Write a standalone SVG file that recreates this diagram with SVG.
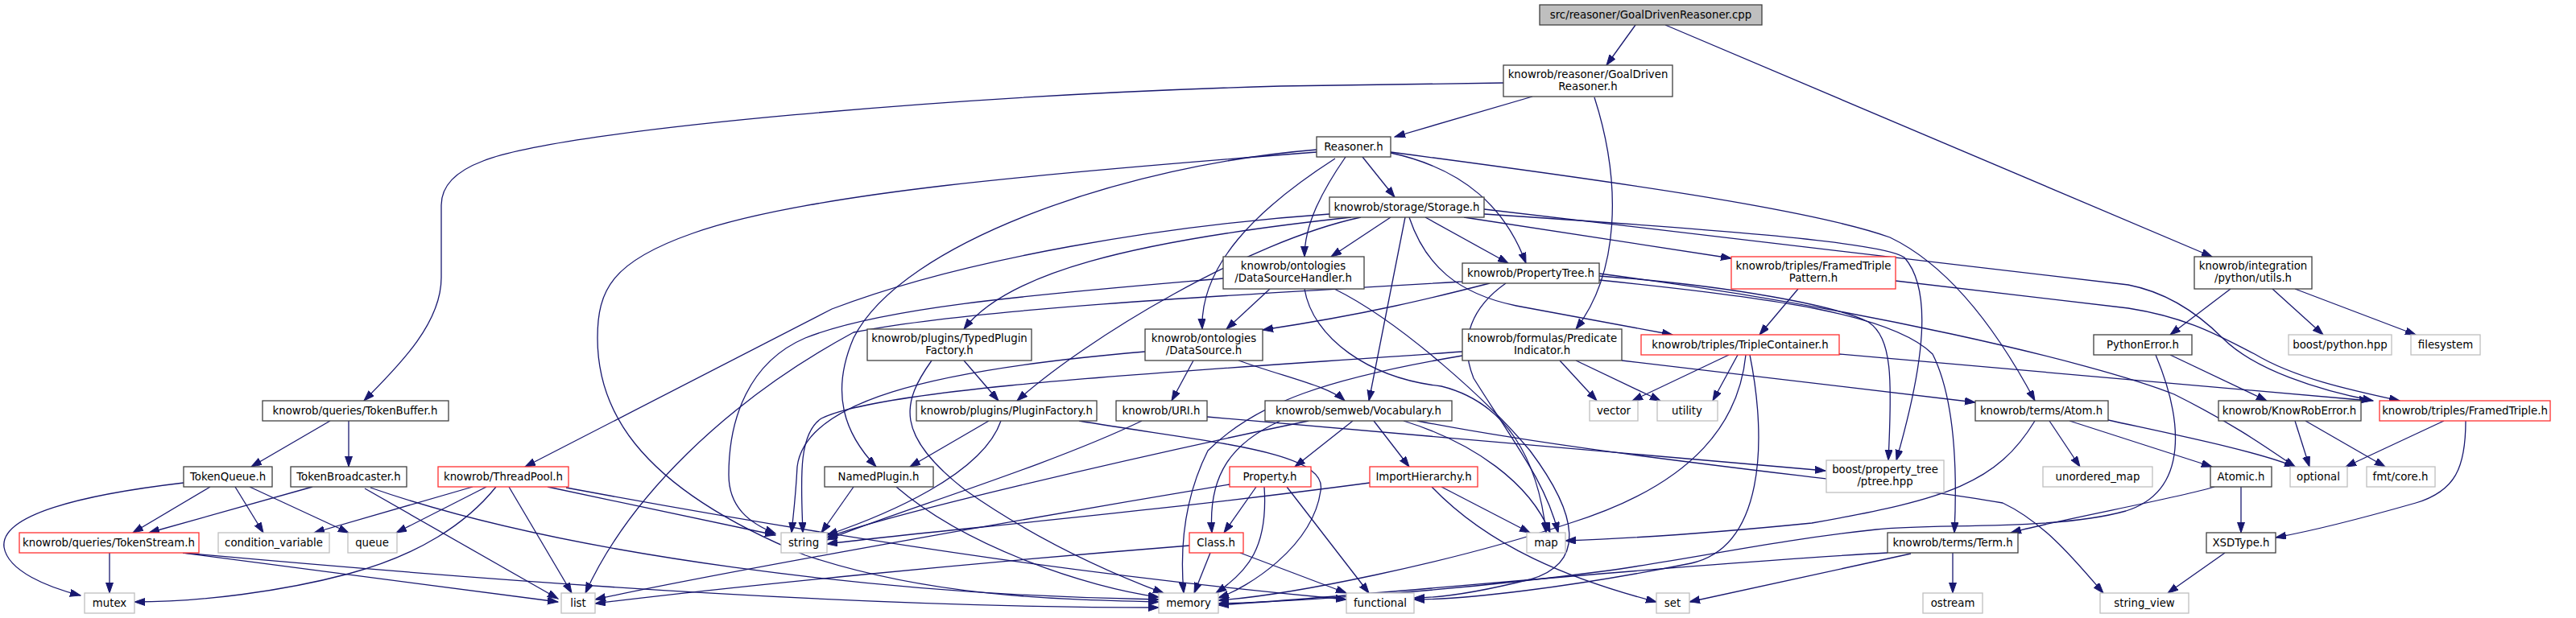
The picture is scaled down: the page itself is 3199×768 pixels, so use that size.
<svg xmlns="http://www.w3.org/2000/svg" width="3199" height="768" viewBox="0 0 3199 768">
<style>
.n rect{fill:#fff;stroke:#404040;stroke-width:1.3}
.r rect{fill:#fff;stroke:#ff3030;stroke-width:1.3}
.g rect{fill:#fff;stroke:#bfbfbf;stroke-width:1.3}
.root rect{fill:#bfbfbf;stroke:#404040;stroke-width:1.3}
text{font-family:"DejaVu Sans","Liberation Sans",sans-serif;font-size:13.3px;fill:#000;text-anchor:middle}
#edges path{fill:none;stroke:#191970;stroke-width:1.3;marker-end:url(#a)}
</style>
<defs>
<marker id="a" markerUnits="userSpaceOnUse" markerWidth="14" markerHeight="10" refX="13" refY="4.5" orient="auto">
<path d="M0,0 L13,4.5 L0,9 z" fill="#191970" stroke="#191970" stroke-width="1"/>
</marker>
</defs>
<rect width="3199" height="768" fill="#fff"/>
<g id="edges">
<path d="M2031,31 L1995,81"/>
<path d="M2068,31 L2747,319"/>
<path d="M1903,120 L1732,170"/>
<path d="M1867,103 L1590,107 C1200,118 700,160 600,200 C560,215 548,235 548,255 L548,345 C548,400 500,450 452,498"/>
<path d="M1980,121 C2015,230 2010,340 1957,409"/>
<path d="M1692,195 L1732,245"/>
<path d="M1671,195 C1640,240 1620,280 1620,319"/>
<path d="M1727,190 C1820,210 1870,260 1895,327"/>
<path d="M1658,197 C1560,260 1490,330 1493,409"/>
<path d="M1727,189 C2000,225 2250,260 2347,295 C2420,330 2480,410 2527,498"/>
<path d="M1635,186 C1400,205 1120,300 1060,420 C1030,490 1050,540 1088,580"/>
<path d="M1635,189 C1300,215 1000,240 860,290 C760,325 742,360 742,420 C742,500 780,600 1000,690 C1150,740 1300,745 1439,748"/>
<path d="M1651,266 C1450,280 1200,320 1033,384 L652,580"/>
<path d="M1678,270 C1400,300 1250,340 1197,409"/>
<path d="M1690,270 C1550,300 1350,420 1263,498"/>
<path d="M1727,270 L1653,319"/>
<path d="M1745,270 L1700,498"/>
<path d="M1750,270 C1770,330 1810,365 1883,380 L2077,416"/>
<path d="M1770,270 L1873,327"/>
<path d="M1818,270 L2150,321"/>
<path d="M1843,266 C2100,283 2340,300 2365,320 C2400,360 2390,450 2355,572"/>
<path d="M1843,260 L2643,354 C2700,365 2740,400 2760,420 C2800,460 2880,485 2947,498"/>
<path d="M2233,359 L2185,416"/>
<path d="M2354,349 L2643,383 C2720,395 2760,420 2800,440 C2850,470 2920,485 2980,498"/>
<path d="M2284,440 L2943,498"/>
<path d="M2770,359 L2695,416"/>
<path d="M2822,359 L2885,416"/>
<path d="M2850,359 L3000,416"/>
<path d="M2695,441 L2815,498"/>
<path d="M2677,441 C2710,520 2720,610 2640,635 C2550,660 2400,650 2330,658 C2200,672 2100,695 1990,710 C1800,735 1600,748 1513,750"/>
<path d="M2850,523 L2868,580"/>
<path d="M2863,523 L2962,580"/>
<path d="M3035,523 L2913,580"/>
<path d="M3062,523 C3062,580 3050,610 3000,625 C2930,645 2870,660 2826,668"/>
<path d="M2783,605 L2783,662"/>
<path d="M2750,605 C2700,620 2560,645 2497,662"/>
<path d="M2763,687 L2692,737"/>
<path d="M2570,523 L2747,580"/>
<path d="M2545,523 L2583,580"/>
<path d="M2618,522 C2700,540 2800,560 2850,580"/>
<path d="M2527,523 C2480,600 2420,620 2250,650 C2100,665 2000,670 1944,672"/>
<path d="M1937,448 L1983,498"/>
<path d="M1957,448 L2062,498"/>
<path d="M2014,448 L2453,500"/>
<path d="M1816,437 C1500,460 1100,480 1020,520 C990,540 995,600 997,662"/>
<path d="M1816,442 C1650,470 1560,500 1500,560 C1470,620 1465,680 1470,737"/>
<path d="M2147,441 L2027,498"/>
<path d="M2158,441 L2127,498"/>
<path d="M2168,441 C2160,520 2110,600 1950,650 C1800,700 1600,740 1513,746"/>
<path d="M2173,441 C2195,550 2190,680 2100,700 C1950,730 1820,745 1756,745"/>
<path d="M1790,605 L1900,662"/>
<path d="M1778,605 C1850,680 1950,720 2057,748"/>
<path d="M1701,600 C1400,640 1150,660 1027,676"/>
<path d="M1560,605 L1520,662"/>
<path d="M1570,605 C1575,680 1550,710 1510,737"/>
<path d="M1598,605 L1700,737"/>
<path d="M1527,602 C1300,640 900,710 739,745"/>
<path d="M1503,687 L1483,737"/>
<path d="M1477,678 C1200,700 900,730 739,750"/>
<path d="M1540,687 L1672,737"/>
<path d="M1680,523 L1608,580"/>
<path d="M1706,523 L1750,580"/>
<path d="M1590,523 C1530,550 1500,590 1505,662"/>
<path d="M1743,523 C1830,550 1900,600 1925,662"/>
<path d="M1625,523 C1400,570 1100,640 1027,668"/>
<path d="M1760,523 C2000,570 2350,600 2487,625 C2540,650 2580,700 2612,737"/>
<path d="M1482,448 L1455,498"/>
<path d="M1538,448 C1600,470 1650,480 1670,498"/>
<path d="M1422,437 C1150,460 1000,500 990,580 C988,620 985,640 983,662"/>
<path d="M1418,523 C1300,580 1100,640 1027,671"/>
<path d="M1499,518 L2267,585"/>
<path d="M1228,523 L1130,580"/>
<path d="M1243,523 C1220,590 1100,640 1027,665"/>
<path d="M1340,523 C1500,550 1650,560 1640,610 C1630,680 1550,730 1513,743"/>
<path d="M1197,448 L1240,498"/>
<path d="M1157,448 C1120,500 1110,540 1200,610 C1300,680 1400,720 1445,737"/>
<path d="M1060,605 L1020,662"/>
<path d="M1113,605 C1200,680 1350,730 1439,742"/>
<path d="M1577,359 L1523,409"/>
<path d="M1620,359 C1630,420 1700,470 1790,480 C1870,500 1910,570 1920,662"/>
<path d="M1657,359 C1740,400 1850,500 1900,560 C1960,640 1970,700 1900,720 C1820,740 1780,743 1756,743"/>
<path d="M1519,346 C1300,365 1100,380 1000,420 C930,450 905,520 905,590 C905,630 930,650 963,663"/>
<path d="M1850,352 C1780,370 1700,390 1568,410"/>
<path d="M1870,352 C1830,380 1810,420 1830,470 C1880,550 1920,600 1935,662"/>
<path d="M1986,343 C2150,355 2280,380 2320,400 C2350,420 2350,470 2345,572"/>
<path d="M1986,348 C2200,370 2350,390 2400,440 C2430,500 2430,600 2427,662"/>
<path d="M1986,340 C2300,380 2600,450 2700,490 C2780,530 2820,560 2850,580"/>
<path d="M1816,350 C1500,368 1200,385 1060,413 C900,500 780,620 727,737"/>
<path d="M2425,687 L2425,737"/>
<path d="M2344,687 C2100,700 1700,740 1513,752"/>
<path d="M2373,688 L2098,748"/>
<path d="M587,605 L390,662"/>
<path d="M604,605 L492,662"/>
<path d="M616,605 C580,650 520,690 433,713 C350,735 250,748 167,748"/>
<path d="M632,605 L710,737"/>
<path d="M680,605 L963,665"/>
<path d="M703,606 C1100,680 1400,720 1672,745"/>
<path d="M410,523 L312,580"/>
<path d="M433,523 L433,580"/>
<path d="M261,605 L165,662"/>
<path d="M292,605 L327,662"/>
<path d="M310,605 L433,662"/>
<path d="M228,600 C100,615 0,640 5,680 C10,710 60,730 100,740"/>
<path d="M388,605 L185,662"/>
<path d="M453,607 L693,744"/>
<path d="M460,606 C700,690 1100,740 1439,745"/>
<path d="M136,687 L136,737"/>
<path d="M227,687 L693,748"/>
<path d="M227,687 C700,730 1100,755 1439,755"/>
</g>
<g id="n_root" class="root"><rect x="1912" y="6" width="276" height="25"/><text x="2050" y="23">src/reasoner/GoalDrivenReasoner.cpp</text></g>
<g id="n_gdr" class="n"><rect x="1867" y="81" width="210" height="39"/><text x="1972" y="97">knowrob/reasoner/GoalDriven</text><text x="1972" y="112">Reasoner.h</text></g>
<g id="n_reasoner" class="n"><rect x="1635" y="170" width="92" height="25"/><text x="1681" y="187">Reasoner.h</text></g>
<g id="n_storage" class="n"><rect x="1651" y="245" width="192" height="25"/><text x="1747" y="262">knowrob/storage/Storage.h</text></g>
<g id="n_dsh" class="n"><rect x="1519" y="319" width="175" height="40"/><text x="1606" y="335">knowrob/ontologies</text><text x="1606" y="350">/DataSourceHandler.h</text></g>
<g id="n_propertytree" class="n"><rect x="1816" y="327" width="170" height="25"/><text x="1901" y="344">knowrob/PropertyTree.h</text></g>
<g id="n_ftp" class="r"><rect x="2150" y="319" width="204" height="40"/><text x="2252" y="335">knowrob/triples/FramedTriple</text><text x="2252" y="350">Pattern.h</text></g>
<g id="n_utils" class="n"><rect x="2725" y="319" width="146" height="40"/><text x="2798" y="335">knowrob/integration</text><text x="2798" y="350">/python/utils.h</text></g>
<g id="n_tokenbuffer" class="n"><rect x="326" y="498" width="231" height="25"/><text x="441" y="515">knowrob/queries/TokenBuffer.h</text></g>
<g id="n_tokenqueue" class="n"><rect x="228" y="580" width="110" height="25"/><text x="283" y="597">TokenQueue.h</text></g>
<g id="n_tokenbroadcaster" class="n"><rect x="361" y="580" width="144" height="25"/><text x="433" y="597">TokenBroadcaster.h</text></g>
<g id="n_tokenstream" class="r"><rect x="24" y="662" width="223" height="25"/><text x="135" y="679">knowrob/queries/TokenStream.h</text></g>
<g id="n_condvar" class="g"><rect x="271" y="662" width="138" height="25"/><text x="340" y="679">condition_variable</text></g>
<g id="n_queue" class="g"><rect x="432" y="662" width="61" height="25"/><text x="462" y="679">queue</text></g>
<g id="n_mutex" class="g"><rect x="105" y="737" width="62" height="25"/><text x="136" y="754">mutex</text></g>
<g id="n_threadpool" class="r"><rect x="544" y="580" width="162" height="25"/><text x="625" y="597">knowrob/ThreadPool.h</text></g>
<g id="n_list" class="g"><rect x="697" y="737" width="42" height="25"/><text x="718" y="754">list</text></g>
<g id="n_string" class="g"><rect x="970" y="662" width="57" height="25"/><text x="998" y="679">string</text></g>
<g id="n_namedplugin" class="n"><rect x="1024" y="580" width="135" height="25"/><text x="1091" y="597">NamedPlugin.h</text></g>
<g id="n_tpf" class="n"><rect x="1077" y="409" width="204" height="39"/><text x="1179" y="425">knowrob/plugins/TypedPlugin</text><text x="1179" y="440">Factory.h</text></g>
<g id="n_datasource" class="n"><rect x="1422" y="409" width="146" height="39"/><text x="1495" y="425">knowrob/ontologies</text><text x="1495" y="440">/DataSource.h</text></g>
<g id="n_pluginfactory" class="n"><rect x="1138" y="498" width="224" height="25"/><text x="1250" y="515">knowrob/plugins/PluginFactory.h</text></g>
<g id="n_uri" class="n"><rect x="1386" y="498" width="113" height="25"/><text x="1442" y="515">knowrob/URI.h</text></g>
<g id="n_vocab" class="n"><rect x="1571" y="498" width="232" height="25"/><text x="1687" y="515">knowrob/semweb/Vocabulary.h</text></g>
<g id="n_property" class="r"><rect x="1527" y="580" width="101" height="25"/><text x="1577" y="597">Property.h</text></g>
<g id="n_class" class="r"><rect x="1477" y="662" width="67" height="25"/><text x="1510" y="679">Class.h</text></g>
<g id="n_memory" class="g"><rect x="1439" y="737" width="74" height="25"/><text x="1476" y="754">memory</text></g>
<g id="n_predind" class="n"><rect x="1816" y="409" width="198" height="39"/><text x="1915" y="425">knowrob/formulas/Predicate</text><text x="1915" y="440">Indicator.h</text></g>
<g id="n_triplecontainer" class="r"><rect x="2038" y="416" width="246" height="25"/><text x="2161" y="433">knowrob/triples/TripleContainer.h</text></g>
<g id="n_vector" class="g"><rect x="1974" y="498" width="60" height="25"/><text x="2004" y="515">vector</text></g>
<g id="n_utility" class="g"><rect x="2058" y="498" width="75" height="25"/><text x="2095" y="515">utility</text></g>
<g id="n_importhierarchy" class="r"><rect x="1701" y="580" width="134" height="25"/><text x="1768" y="597">ImportHierarchy.h</text></g>
<g id="n_map" class="g"><rect x="1896" y="662" width="48" height="25"/><text x="1920" y="679">map</text></g>
<g id="n_functional" class="g"><rect x="1672" y="737" width="84" height="25"/><text x="1714" y="754">functional</text></g>
<g id="n_set" class="g"><rect x="2057" y="737" width="41" height="25"/><text x="2077" y="754">set</text></g>
<g id="n_atom" class="n"><rect x="2453" y="498" width="165" height="25"/><text x="2535" y="515">knowrob/terms/Atom.h</text></g>
<g id="n_ptreehpp" class="g"><rect x="2268" y="572" width="146" height="40"/><text x="2341" y="588">boost/property_tree</text><text x="2341" y="603">/ptree.hpp</text></g>
<g id="n_unorderedmap" class="g"><rect x="2537" y="580" width="136" height="25"/><text x="2605" y="597">unordered_map</text></g>
<g id="n_term" class="n"><rect x="2344" y="662" width="162" height="25"/><text x="2425" y="679">knowrob/terms/Term.h</text></g>
<g id="n_ostream" class="g"><rect x="2388" y="737" width="74" height="25"/><text x="2425" y="754">ostream</text></g>
<g id="n_stringview" class="g"><rect x="2608" y="737" width="110" height="25"/><text x="2663" y="754">string_view</text></g>
<g id="n_pythonerror" class="n"><rect x="2600" y="416" width="122" height="25"/><text x="2661" y="433">PythonError.h</text></g>
<g id="n_boostpython" class="g"><rect x="2842" y="416" width="128" height="25"/><text x="2906" y="433">boost/python.hpp</text></g>
<g id="n_filesystem" class="g"><rect x="2994" y="416" width="86" height="25"/><text x="3037" y="433">filesystem</text></g>
<g id="n_krerror" class="n"><rect x="2755" y="498" width="177" height="25"/><text x="2843" y="515">knowrob/KnowRobError.h</text></g>
<g id="n_framedtriple" class="r"><rect x="2955" y="498" width="212" height="25"/><text x="3061" y="515">knowrob/triples/FramedTriple.h</text></g>
<g id="n_atomic" class="n"><rect x="2745" y="580" width="76" height="25"/><text x="2783" y="597">Atomic.h</text></g>
<g id="n_optional" class="g"><rect x="2844" y="580" width="71" height="25"/><text x="2879" y="597">optional</text></g>
<g id="n_fmt" class="g"><rect x="2939" y="580" width="85" height="25"/><text x="2981" y="597">fmt/core.h</text></g>
<g id="n_xsd" class="n"><rect x="2740" y="662" width="86" height="25"/><text x="2783" y="679">XSDType.h</text></g>
</svg>
